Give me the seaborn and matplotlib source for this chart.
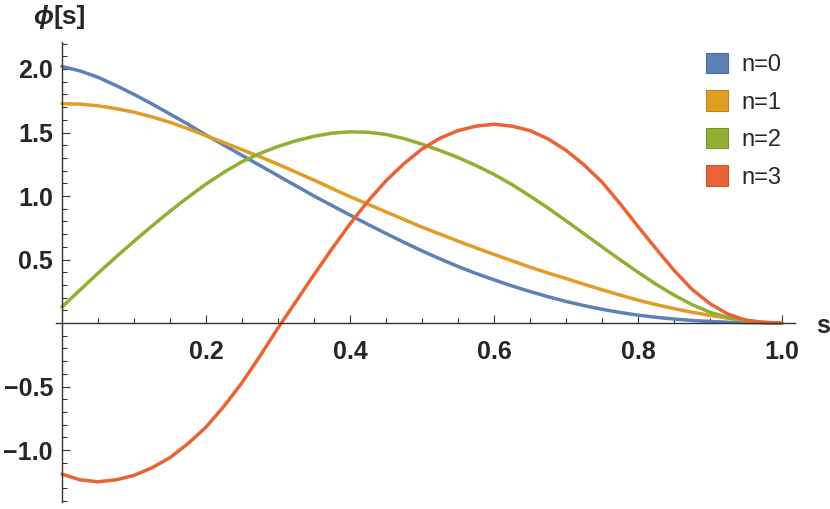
import pandas as pd
import matplotlib
matplotlib.use('Agg')
import matplotlib.pyplot as plt
import seaborn as sns
from matplotlib.patches import Patch
from matplotlib.ticker import FixedLocator, FuncFormatter

# valores (s de 0 a 1 cada 0.025)
s_vals = [0.000, 0.025, 0.050, 0.075, 0.100, 0.125, 0.150, 0.175, 0.200, 0.225,
          0.250, 0.275, 0.300, 0.325, 0.350, 0.375, 0.400, 0.425, 0.450, 0.475,
          0.500, 0.525, 0.550, 0.575, 0.600, 0.625, 0.650, 0.675, 0.700, 0.725,
          0.750, 0.775, 0.800, 0.825, 0.850, 0.875, 0.900, 0.925, 0.950, 0.975,
          1.000]

phi_n0 = [2.020, 1.985, 1.935, 1.870, 1.800, 1.725, 1.645, 1.565, 1.480, 1.400,
          1.320, 1.240, 1.160, 1.080, 1.000, 0.925, 0.850, 0.776, 0.705, 0.635,
          0.568, 0.505, 0.445, 0.390, 0.340, 0.292, 0.248, 0.207, 0.170, 0.137,
          0.108, 0.083, 0.062, 0.045, 0.031, 0.020, 0.012, 0.006, 0.003, 0.001,
          0.000]

phi_n1 = [1.727, 1.723, 1.710, 1.688, 1.660, 1.623, 1.580, 1.530, 1.475, 1.420,
          1.365, 1.309, 1.250, 1.188, 1.125, 1.060, 0.995, 0.935, 0.875, 0.815,
          0.755, 0.700, 0.645, 0.592, 0.540, 0.490, 0.440, 0.394, 0.350, 0.305,
          0.262, 0.220, 0.180, 0.145, 0.113, 0.085, 0.060, 0.038, 0.021, 0.006,
          0.000]

phi_n2 = [0.126, 0.260, 0.392, 0.520, 0.644, 0.764, 0.880, 0.990, 1.094, 1.187,
          1.270, 1.335, 1.390, 1.435, 1.470, 1.495, 1.505, 1.502, 1.485, 1.452,
          1.408, 1.358, 1.303, 1.240, 1.170, 1.090, 1.000, 0.905, 0.805, 0.703,
          0.600, 0.498, 0.400, 0.305, 0.220, 0.145, 0.085, 0.043, 0.017, 0.004,
          0.000]

phi_n3 = [-1.190, -1.235, -1.250, -1.235, -1.200, -1.140, -1.060, -0.950, -0.820, -0.655,
          -0.470, -0.260, -0.040, 0.170, 0.380, 0.585, 0.780, 0.960, 1.120, 1.255,
          1.370, 1.455, 1.515, 1.550, 1.565, 1.550, 1.515, 1.450, 1.360, 1.245,
          1.110, 0.940, 0.760, 0.585, 0.415, 0.265, 0.152, 0.070, 0.022, 0.003,
          0.000]

etiquetas = ['n=0', 'n=1', 'n=2', 'n=3']
colores = ['#5E81B5', '#E19C24', '#8FB032', '#EB6235']
bordes = ['#4C6C9C', '#BE8420', '#779530', '#C9532D']

df = pd.DataFrame({
    's': s_vals * 4,
    'phi': phi_n0 + phi_n1 + phi_n2 + phi_n3,
    'n': [e for e in etiquetas for _ in s_vals],
})

sns.set_style('white')
plt.rcParams['font.family'] = ['Liberation Sans', 'DejaVu Sans']

fig = plt.figure(figsize=(8.3, 5.09), dpi=100)
ax = fig.add_axes([0, 0, 1, 1])
ax.patch.set_alpha(0)

sns.lineplot(data=df, x='s', y='phi', hue='n', palette=colores, linewidth=2.5,
             legend=False, ax=ax)
for linea in ax.get_lines():
    linea.set_solid_joinstyle('round')
    linea.set_solid_capstyle('round')

# ejes cruzando en el origen, estilo Mathematica
ax.set_xlim(-62 / 720, (830 - 62) / 720)
ax.set_ylim((323 - 509) / 127, 323 / 127)
ax.set_xlabel('')
ax.set_ylabel('')
for lado in ['top', 'right']:
    ax.spines[lado].set_visible(False)
ax.spines['left'].set_position(('data', 0))
ax.spines['bottom'].set_position(('data', 0))
ax.spines['left'].set_bounds(-1.41, 2.21)
ax.spines['bottom'].set_bounds(-0.008, 1.018)
for lado in ['left', 'bottom']:
    ax.spines[lado].set_color('#333333')
    ax.spines[lado].set_linewidth(1.0)

ax.xaxis.set_major_locator(FixedLocator([0.2, 0.4, 0.6, 0.8, 1.0]))
ax.xaxis.set_minor_locator(FixedLocator([0.05, 0.1, 0.15, 0.25, 0.3, 0.35, 0.45, 0.5,
                                         0.55, 0.65, 0.7, 0.75, 0.85, 0.9, 0.95]))
ax.yaxis.set_major_locator(FixedLocator([-1.0, -0.5, 0.5, 1.0, 1.5, 2.0]))
menores_y = [k / 10 for k in range(-14, 23) if k % 5 != 0]
ax.yaxis.set_minor_locator(FixedLocator(menores_y))

fmt = FuncFormatter(lambda v, p: ('%.1f' % v).replace('-', '\u2212'))
ax.xaxis.set_major_formatter(fmt)
ax.yaxis.set_major_formatter(fmt)

ax.tick_params(which='both', direction='in', color='#333333', width=0.8,
               bottom=True, left=True)
ax.tick_params(which='major', length=6.0)
ax.tick_params(which='minor', length=3.3)
ax.tick_params(axis='x', which='major', pad=12.5, labelsize=18)
ax.tick_params(axis='y', which='major', pad=6.5, labelsize=18)
for t in ax.get_xticklabels() + ax.get_yticklabels():
    t.set_fontweight('bold')

fig.text(53 / 830, 1 - 17 / 509, '\u03d5', ha='right', va='center',
         fontsize=19, fontweight='bold', style='italic')
fig.text(53 / 830, 1 - 17 / 509, '[s]', ha='left', va='center',
         fontsize=19, fontweight='bold')
fig.text(816 / 830, 1 - 333 / 509, 's', ha='left', va='baseline',
         fontsize=18, fontweight='bold')

manijas = [Patch(facecolor=c, edgecolor=b, linewidth=0.8) for c, b in zip(colores, bordes)]
ax.legend(manijas, etiquetas, loc='upper left', bbox_to_anchor=(706 / 830, 1 - 53 / 509),
          bbox_transform=fig.transFigure, frameon=False, borderpad=0, borderaxespad=0,
          handlelength=0.95, handleheight=0.95, handletextpad=0.55, labelspacing=0.6,
          prop={'size': 17})

fig.savefig('out.png', dpi=100)
